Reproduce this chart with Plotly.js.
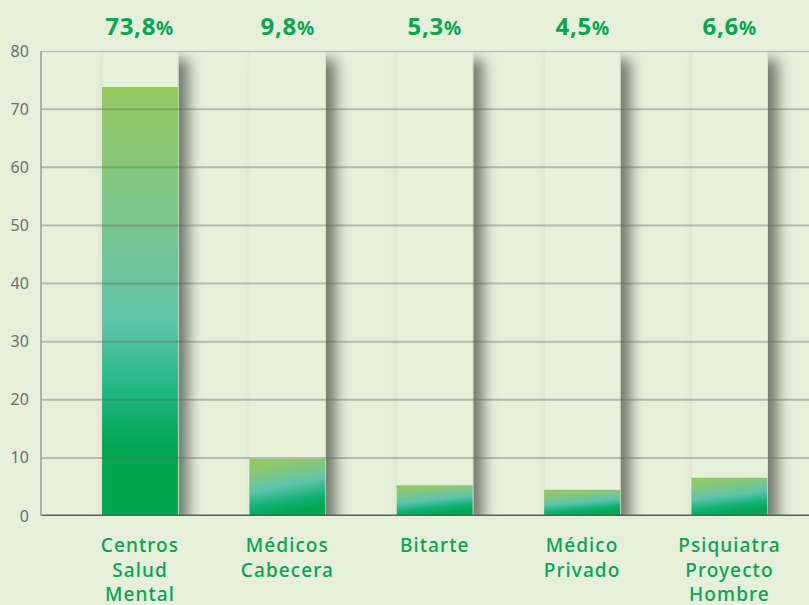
<!DOCTYPE html>
<html>
<head>
<meta charset="utf-8">
<script src="https://cdn.plot.ly/plotly-3.0.1.min.js"></script>
<style>
  html, body { margin: 0; padding: 0; background: #e5efd9; }
  #chart { width: 809px; height: 605px; }
  #chart .xtick text { letter-spacing: 1.1px; }
  #chart .annotation-text { letter-spacing: 0.7px; }
</style>
</head>
<body>
<div id="chart"></div>
<script>
// ---- data ----
var categories = ["Centros<br>Salud<br>Mental", "Médicos<br>Cabecera", "Bitarte", "Médico<br>Privado", "Psiquiatra<br>Proyecto<br>Hombre"];
var values = [73.8, 9.8, 5.3, 4.5, 6.6];
var valueLabels = ["73,8", "9,8", "5,3", "4,5", "6,6"];
var yMax = 80;
var tickVals = [0, 10, 20, 30, 40, 50, 60, 70, 80];

var bg = "#e5efd9";
var green = "#00a651";
var barWidth = 0.515;

var xIdx = categories.map(function (c, i) { return i; });

var traces = [
  { // background columns
    type: "bar", x: xIdx, y: xIdx.map(function () { return yMax; }),
    width: barWidth, marker: { color: "#e6f0db", line: { color: "#dbe6cf", width: 1 } },
    hoverinfo: "skip", showlegend: false
  },
  {
    type: "bar", x: xIdx, y: values, width: barWidth,
    marker: { color: green, line: { width: 0 } },
    hoverinfo: "skip", showlegend: false
  }
];

var shapes = tickVals.filter(function (v) { return v > 0; }).map(function (v) {
  return { type: "line", xref: "paper", yref: "y", x0: 0, x1: 1, y0: v, y1: v,
           line: { color: "rgba(95,105,90,0.38)", width: 2 }, layer: "above" };
});
shapes.push({ type: "line", xref: "paper", yref: "y", x0: 0, x1: 1, y0: 0, y1: 0,
              line: { color: "#5d5f5b", width: 3 }, layer: "above" });

var annotations = xIdx.map(function (i) {
  return { x: i, xref: "x", y: 1 + (51 - 25) / (605 - 51 - 89), yref: "paper", yanchor: "middle",
           text: "<b>" + valueLabels[i] + "</b><span style='font-size:19px'><b>%</b></span>",
           showarrow: false, font: { family: "Noto Sans", size: 24, color: green } };
});

var layout = {
  width: 809, height: 605,
  margin: { l: 42, r: 0, t: 51, b: 89, pad: 0 },
  paper_bgcolor: bg, plot_bgcolor: bg,
  barmode: "overlay",
  showlegend: false,
  xaxis: {
    range: [-0.665, 4.54], tickmode: "array", tickvals: xIdx, ticktext: categories,
    showgrid: false, zeroline: false, showline: false, ticks: "",
    ticklabelstandoff: 16,
    tickfont: { family: "Noto Sans", size: 19, weight: 500, color: green }
  },
  yaxis: {
    range: [0, yMax], tickmode: "array", tickvals: tickVals,
    showgrid: false, zeroline: false,
    showline: true, linecolor: "#aab3a3", linewidth: 2,
    ticks: "", ticklabelstandoff: 8,
    tickfont: { family: "Noto Sans", size: 16, color: "#6e706c" }
  },
  shapes: shapes,
  annotations: annotations
};

Plotly.newPlot("chart", traces, layout, { displayModeBar: false, staticPlot: true }).then(function () {
  var svgNS = "http://www.w3.org/2000/svg";
  var svg = document.querySelector("#chart .main-svg");
  var defs = document.createElementNS(svgNS, "defs");
  defs.innerHTML =
    '<linearGradient id="gTall" x1="0" y1="0" x2="0" y2="1">' +
      '<stop offset="0" stop-color="#95c95e"/>' +
      '<stop offset="0.3" stop-color="#7bc58c"/>' +
      '<stop offset="0.55" stop-color="#5ec4ab"/>' +
      '<stop offset="0.72" stop-color="#1db580"/>' +
      '<stop offset="0.84" stop-color="#00a651"/>' +
      '<stop offset="1" stop-color="#00a651"/>' +
    '</linearGradient>' +
    '<linearGradient id="gShort" x1="0" y1="0" x2="0.25" y2="1">' +
      '<stop offset="0" stop-color="#95c95e"/>' +
      '<stop offset="0.2" stop-color="#8cc771"/>' +
      '<stop offset="0.55" stop-color="#5ec4ab"/>' +
      '<stop offset="0.8" stop-color="#15b277"/>' +
      '<stop offset="1" stop-color="#00a651"/>' +
    '</linearGradient>' +
    '<filter id="shadow" x="-20%" y="-10%" width="170%" height="130%">' +
      '<feDropShadow dx="10" dy="9" stdDeviation="7" flood-color="#000" flood-opacity="0.5"/>' +
    '</filter>';
  svg.insertBefore(defs, svg.firstChild);
  var traceGroups = document.querySelectorAll("#chart .barlayer .trace");
  traceGroups[0].querySelectorAll(".point path").forEach(function (p) {
    p.setAttribute("filter", "url(#shadow)");
  });
  traceGroups[1].querySelectorAll(".point path").forEach(function (p) {
    var h = p.getBBox().height;
    p.style.fill = h > 100 ? "url(#gTall)" : "url(#gShort)";
  });
});
</script>
</body>
</html>
